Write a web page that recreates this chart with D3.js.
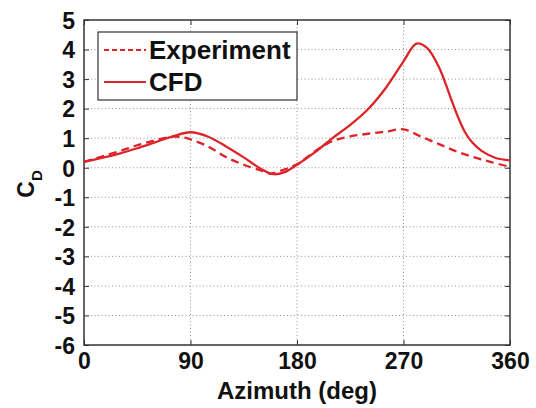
<!DOCTYPE html>
<html>
<head>
<meta charset="utf-8">
<script src="https://cdn.jsdelivr.net/npm/d3@7"></script>
<style>
  html, body { margin: 0; padding: 0; background: #fff; }
  svg { display: block; font-family: "Liberation Sans", Arial, sans-serif; }
</style>
</head>
<body>
<svg id="chart" width="536" height="408"></svg>
<script>
// Drag coefficient vs. azimuth angle
const expAzimuth = [0, 15, 30, 45, 60, 75, 85, 90, 105, 120, 135, 150, 157, 165, 180, 195, 210, 225, 240, 255, 270, 285, 300, 315, 330, 345, 360];
const expCd      = [0.2, 0.38, 0.56, 0.76, 0.93, 1.05, 1.02, 0.96, 0.72, 0.36, 0.1, -0.1, -0.2, -0.12, 0.12, 0.55, 0.9, 1.06, 1.15, 1.22, 1.3, 1.05, 0.8, 0.55, 0.35, 0.18, 0.03];

const cfdAzimuth = [0, 15, 30, 45, 60, 75, 90, 105, 120, 135, 150, 160, 170, 180, 195, 210, 225, 240, 255, 270, 281, 290, 300, 310, 316, 322, 328, 336, 348, 360];
const cfdCd      = [0.2, 0.33, 0.48, 0.66, 0.86, 1.06, 1.2, 1.05, 0.72, 0.35, -0.05, -0.22, -0.14, 0.1, 0.52, 1.0, 1.45, 1.98, 2.7, 3.6, 4.2, 4.05, 3.4, 2.35, 1.72, 1.2, 0.86, 0.57, 0.33, 0.25];

const xTicks = [0, 90, 180, 270, 360];
const yTicks = [5, 4, 3, 2, 1, 0, -1, -2, -3, -4, -5, -6];
const seriesNames = ["Experiment", "CFD"];

const lineColor = "#dc2429";
const margin = { left: 84, right: 26, top: 20, bottom: 63 };
const W = 536, H = 408;
const iw = W - margin.left - margin.right;
const ih = H - margin.top - margin.bottom;

const svg = d3.select("#chart");
const g = svg.append("g").attr("transform", `translate(${margin.left},${margin.top})`);

const x = d3.scaleLinear().domain([0, 360]).range([0, iw]);
const y = d3.scaleLinear().domain([-6, 5]).range([ih, 0]);

// dotted grid
g.append("g").selectAll("line").data(yTicks.filter(v => v > -6 && v < 5)).join("line")
  .attr("x1", 0).attr("x2", iw)
  .attr("y1", d => y(d)).attr("y2", d => y(d))
  .attr("stroke", "#888").attr("stroke-width", 0.9).attr("stroke-dasharray", "1,2.5");
g.append("g").selectAll("line").data(xTicks.filter(v => v > 0 && v < 360)).join("line")
  .attr("y1", 0).attr("y2", ih)
  .attr("x1", d => x(d)).attr("x2", d => x(d))
  .attr("stroke", "#888").attr("stroke-width", 0.9).attr("stroke-dasharray", "1,2.5");

// axes with inward ticks
const axB = g.append("g").attr("transform", `translate(0,${ih})`)
  .call(d3.axisBottom(x).tickValues(xTicks).tickSize(-5).tickPadding(8).tickFormat(d3.format("d")));
const axT = g.append("g")
  .call(d3.axisTop(x).tickValues(xTicks).tickSize(-5).tickFormat(""));
const axL = g.append("g")
  .call(d3.axisLeft(y).tickValues(yTicks).tickSize(-5).tickPadding(9).tickFormat(d => String(d)));
const axR = g.append("g").attr("transform", `translate(${iw},0)`)
  .call(d3.axisRight(y).tickValues(yTicks).tickSize(-5).tickFormat(""));

[axB, axT, axL, axR].forEach(a => {
  a.select(".domain").remove();
  a.selectAll(".tick line").attr("stroke", "#333").attr("stroke-width", 1);
});
axB.selectAll(".tick text").attr("font-size", 23).attr("font-weight", "bold").attr("fill", "#111");
axL.selectAll(".tick text").attr("font-size", 23).attr("font-weight", "bold").attr("fill", "#111").attr("dy", "0.36em");

// plot frame
g.append("rect").attr("x", 0).attr("y", 0).attr("width", iw).attr("height", ih)
  .attr("fill", "none").attr("stroke", "#333").attr("stroke-width", 1.5);

// curves
const line = d3.line().x(d => x(d[0])).y(d => y(d[1])).curve(d3.curveCatmullRom.alpha(0.5));
const expData = expAzimuth.map((a, i) => [a, expCd[i]]);
const cfdData = cfdAzimuth.map((a, i) => [a, cfdCd[i]]);

g.append("path").datum(expData).attr("d", line)
  .attr("fill", "none").attr("stroke", lineColor).attr("stroke-width", 2.3)
  .attr("stroke-dasharray", "8,5");
g.append("path").datum(cfdData).attr("d", line)
  .attr("fill", "none").attr("stroke", lineColor).attr("stroke-width", 2.3);

// legend
const lg = svg.append("g");
lg.append("rect").attr("x", 98).attr("y", 32).attr("width", 199).attr("height", 68)
  .attr("fill", "#fff").attr("stroke", "#333").attr("stroke-width", 1.2);
const rows = [{ name: seriesNames[0], dash: "5,3", y: 50 }, { name: seriesNames[1], dash: null, y: 82 }];
rows.forEach(r => {
  lg.append("line").attr("x1", 104).attr("x2", 146).attr("y1", r.y).attr("y2", r.y)
    .attr("stroke", lineColor).attr("stroke-width", 2)
    .attr("stroke-dasharray", r.dash);
  lg.append("text").attr("x", 149).attr("y", r.y + 9).text(r.name)
    .attr("font-size", 26).attr("font-weight", "bold").attr("fill", "#111");
});

// axis titles
svg.append("text").attr("x", margin.left + iw / 2).attr("y", 399)
  .attr("text-anchor", "middle").attr("font-size", 24).attr("font-weight", "bold").attr("fill", "#111")
  .text("Azimuth (deg)");

const yl = svg.append("text").attr("transform", "translate(34,184) rotate(-90)")
  .attr("text-anchor", "middle").attr("font-weight", "bold").attr("fill", "#111");
yl.append("tspan").attr("font-size", 23).text("C");
yl.append("tspan").attr("font-size", 15).attr("dy", 8).text("D");
</script>
</body>
</html>
